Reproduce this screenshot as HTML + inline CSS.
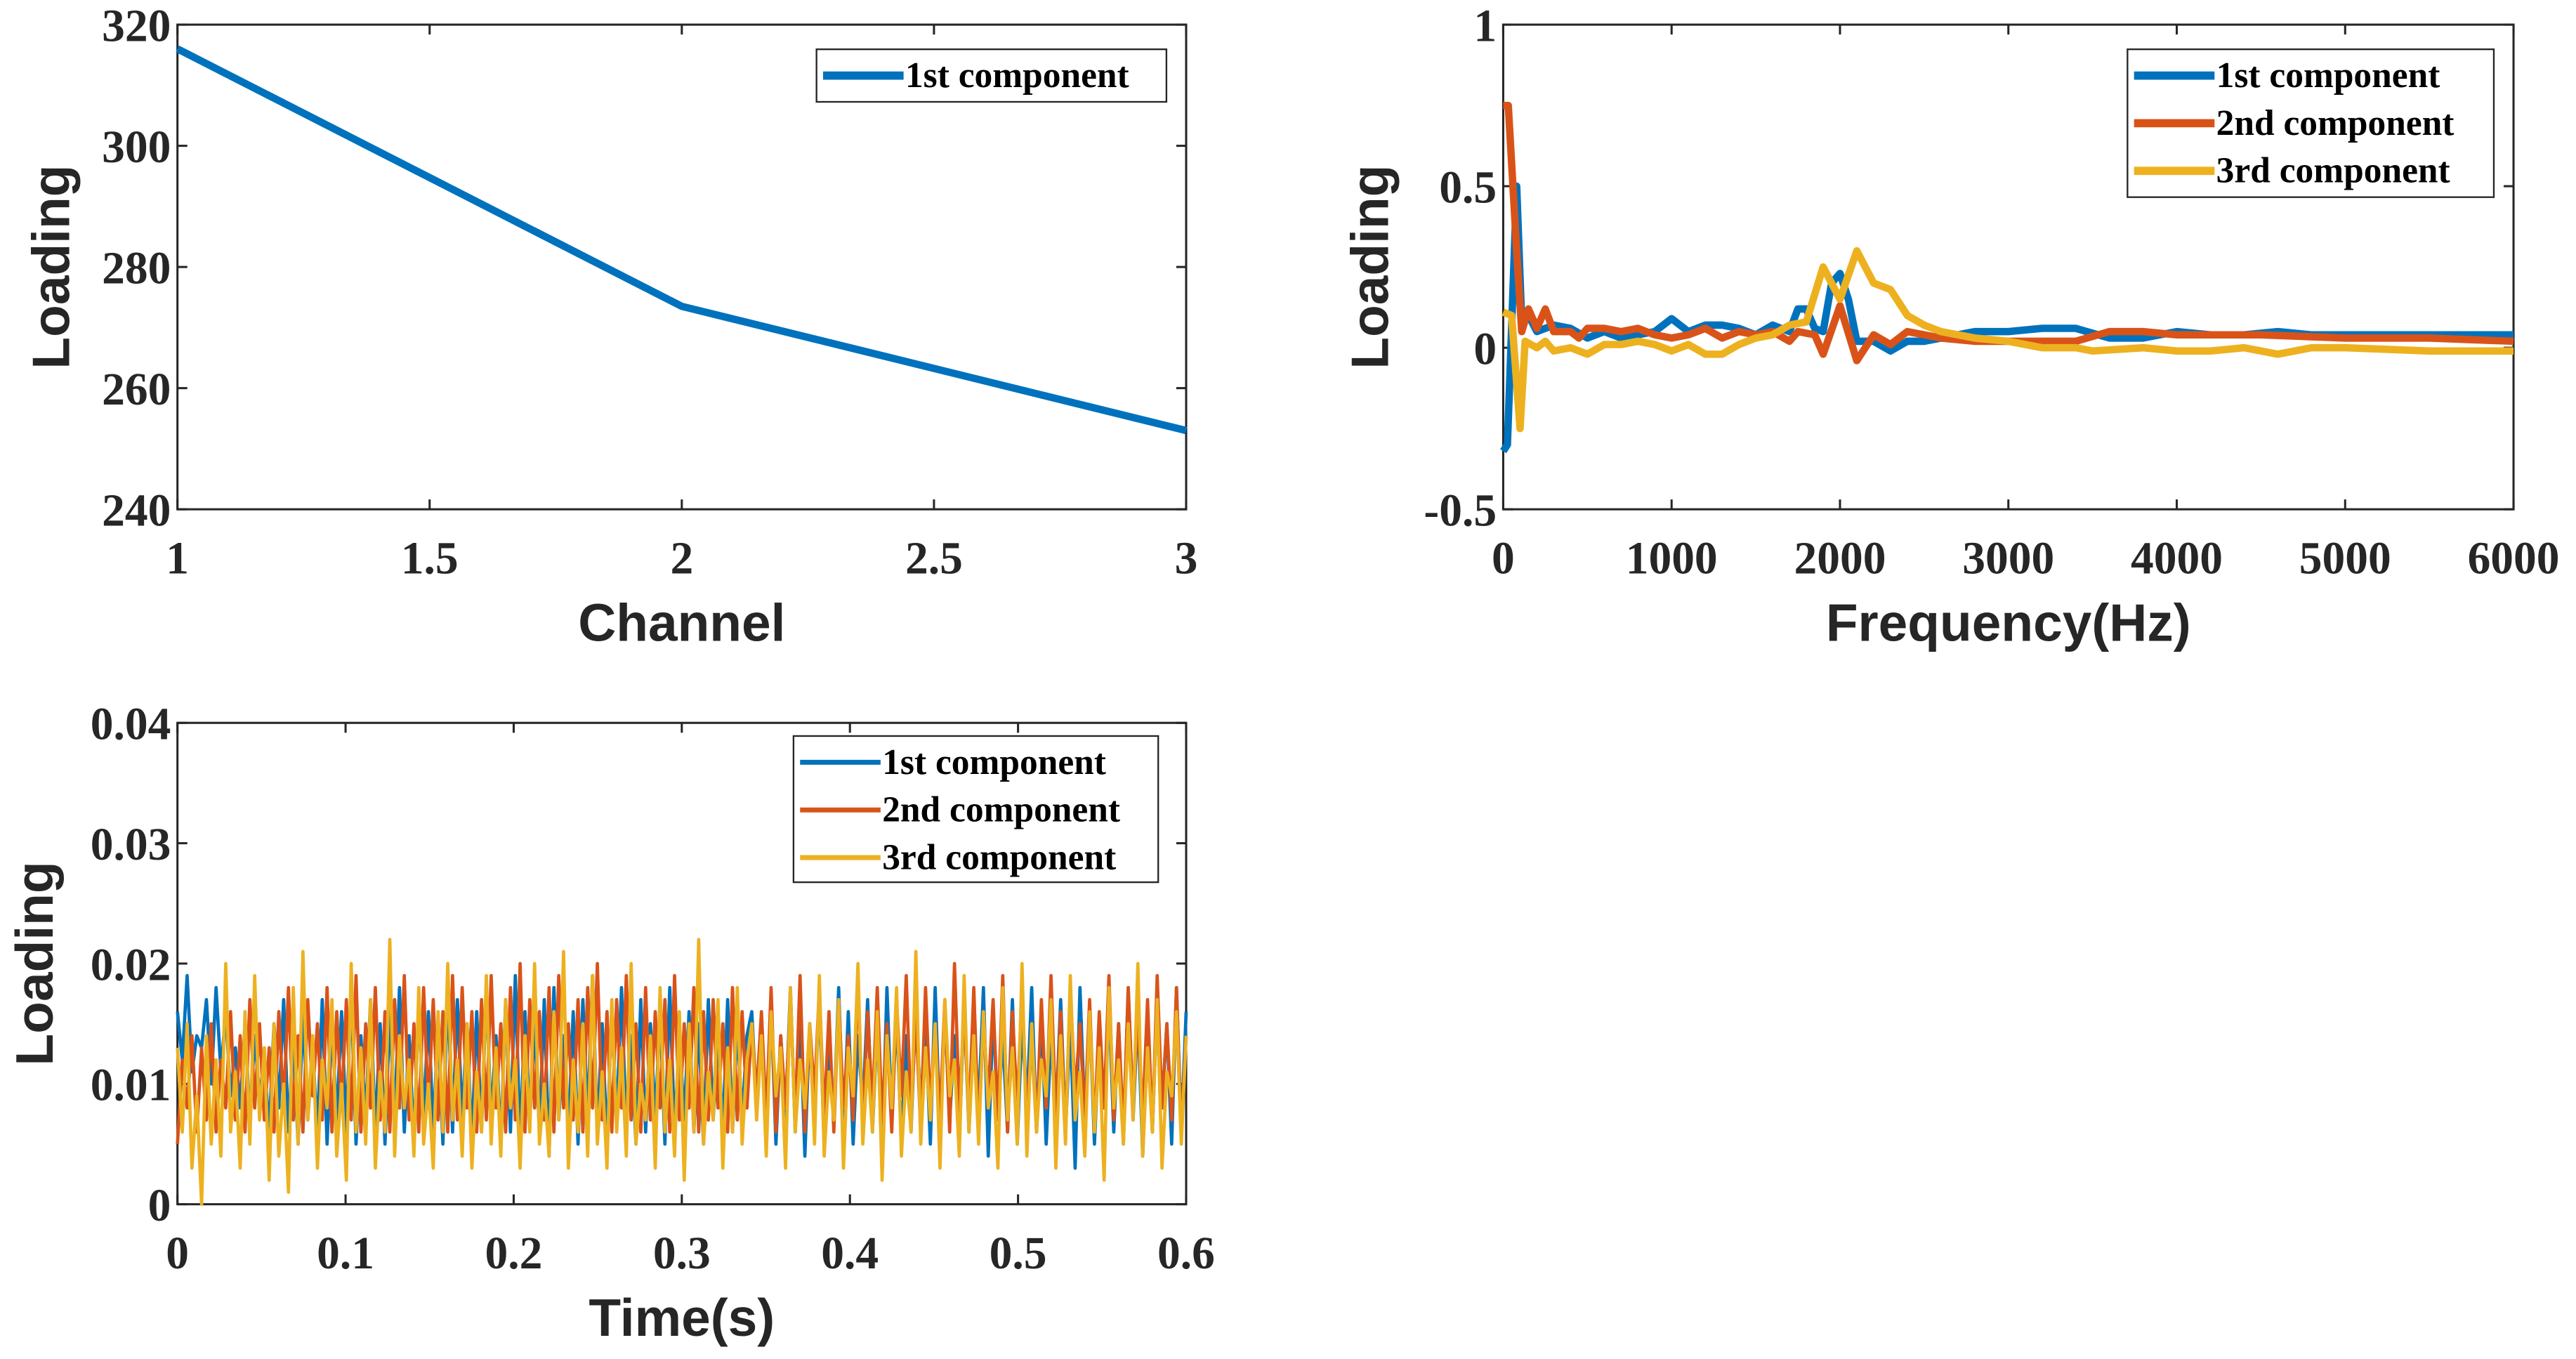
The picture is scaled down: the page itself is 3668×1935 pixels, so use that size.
<!DOCTYPE html>
<html><head><meta charset="utf-8"><style>
html,body{margin:0;padding:0;background:#fff;}
svg{display:block;}
.tk{font-family:"Liberation Serif",serif;font-weight:bold;font-size:28px;fill:#262626;}
.ti{font-family:"Liberation Sans",sans-serif;font-weight:bold;font-size:32px;fill:#262626;}
.lg{font-family:"Liberation Serif",serif;font-weight:bold;font-size:22px;fill:#000;}
</style></head><body>
<svg id="root" width="3668" height="1935" viewBox="0 0 1568 827.2" xmlns="http://www.w3.org/2000/svg"></svg>
<script>
// ---- chart 1 data ----
const ch1Channels=[1,2,3];
const ch1Loading=[316,273.5,253];
const ch1XTicks=[1,1.5,2,2.5,3];
const ch1YTicks=[240,260,280,300,320];
// ---- chart 2 data ----
const f1Hz=[0,25,80,110,150,200,300,400,500,600,700,800,900,1000,1100,1200,1300,1400,1500,1600,1700,1750,1800,1850,1900,1950,2000,2050,2100,2200,2300,2400,2500,2600,2800,3000,3200,3400,3600,3800,4000,4200,4400,4600,4800,5000,5500,6000];
const f1Val=[-0.32,-0.3,0.5,0.08,0.1,0.05,0.07,0.06,0.03,0.05,0.03,0.04,0.05,0.09,0.05,0.07,0.07,0.06,0.04,0.07,0.05,0.12,0.12,0.06,0.05,0.2,0.23,0.15,0.02,0.02,-0.01,0.02,0.02,0.03,0.05,0.05,0.06,0.06,0.03,0.03,0.05,0.04,0.04,0.05,0.04,0.04,0.04,0.04];
const f2Hz=[0,30,80,110,150,200,250,300,400,450,500,600,700,800,900,1000,1100,1200,1300,1400,1500,1600,1700,1750,1850,1900,2000,2100,2200,2300,2400,2600,2800,3000,3400,3600,3800,4000,4500,5000,5500,6000];
const f2Val=[0.75,0.75,0.3,0.05,0.12,0.06,0.12,0.05,0.05,0.03,0.06,0.06,0.05,0.06,0.04,0.03,0.04,0.06,0.03,0.05,0.04,0.05,0.02,0.05,0.04,-0.02,0.13,-0.04,0.04,0.01,0.05,0.03,0.02,0.02,0.02,0.05,0.05,0.04,0.04,0.03,0.03,0.02];
const f3Hz=[0,50,100,130,200,250,300,400,500,600,700,800,900,1000,1100,1200,1300,1400,1500,1600,1700,1800,1900,2000,2100,2200,2300,2400,2500,2600,2800,3000,3200,3400,3500,3800,4000,4200,4400,4600,4800,5000,5500,6000];
const f3Val=[0.11,0.1,-0.25,0.02,0,0.02,-0.01,0,-0.02,0.01,0.01,0.02,0.01,-0.01,0.01,-0.02,-0.02,0.01,0.03,0.04,0.07,0.08,0.25,0.15,0.3,0.2,0.18,0.1,0.07,0.05,0.03,0.02,0,0,-0.01,0,-0.01,-0.01,0,-0.02,0,0,-0.01,-0.01];
const ch2XTicks=[0,1000,2000,3000,4000,5000,6000];
const ch2YTicks=[-0.5,0,0.5,1];
// ---- chart 3 data (values x 1e-3) ----
const t3Yellow=[13,6,15,3,9,0,14,5,12,4,20,6,11,3,16,5,19,7,13,2,15,4,10,1,18,5,21,7,14,3,12,8,17,4,10,2,20,6,13,5,17,3,11,6,22,4,14,8,12,4,18,5,10,3,16,6,20,7,12,4,15,3,11,6,19,5,13,4,17,8,12,3,14,6,20,5,10,4,16,7,21,3,12,6,15,4,19,5,11,3,17,6,13,4,20,5,10,7,14,3,18,6,12,4,16,2,15,6,22,5,11,7,17,3,13,6,18,5,12,15,
 7,14,4,16,9,13,3,18,6,12,8,15,5,19,4,11,7,17,3,13,9,20,5,12,6,16,2,14,8,18,4,11,6,21,5,13,7,15,3,17,9,12,4,19,6,14,5,16,8,11,3,18,7,13,5,20,4,15,6,12,9,17,3,14,5,19,7,11,4,16,6,13,2,18,8,12,5,15,7,20,4,13,6,17,3,11,9,16,5,14];
const t3Red=[5,12,8,14,6,13,7,15,6,12,8,16,7,14,6,17,8,15,7,13,6,16,8,18,7,14,6,17,9,15,7,18,6,16,8,17,7,19,6,15,8,18,7,16,6,17,8,19,7,15,6,18,8,17,7,16,6,19,7,18,8,16,6,17,7,19,8,15,6,18,7,20,6,17,8,16,7,18,6,19,8,15,7,17,6,18,8,20,7,16,6,17,8,19,7,15,6,18,7,16,8,17,6,19,7,15,8,18,6,16,7,17,8,15,6,18,7,16,8,15,
 9,16,7,18,6,14,8,17,7,19,6,15,9,18,7,16,6,17,8,14,7,19,6,16,8,18,7,15,6,17,9,19,7,16,6,18,8,15,7,17,6,20,8,16,7,18,6,15,9,17,7,19,6,16,8,18,7,14,6,17,8,19,7,16,6,18,9,15,7,17,6,16,8,19,7,15,6,18,8,16,7,17,6,19,8,15,7,18,6,14];
const t3Blue=[16,12,19,11,14,13,17,10,18,11,16,9,13,8,15,7,14,9,12,6,15,8,17,6,14,5,16,7,13,6,17,5,15,7,16,6,18,5,14,7,17,6,15,5,16,7,18,6,14,5,17,7,16,6,15,5,18,6,17,7,15,5,16,6,18,7,14,5,17,6,19,5,16,7,15,6,17,4,18,7,14,6,16,5,17,7,19,6,15,5,16,7,18,6,14,5,17,6,15,7,16,5,18,6,14,7,16,6,15,5,17,7,14,6,17,6,15,7,14,16,
 8,15,6,17,5,14,7,18,6,16,4,15,8,17,5,13,7,18,6,16,5,14,8,17,6,15,4,18,7,16,5,14,6,17,8,15,5,18,6,16,7,14,5,17,6,15,8,18,4,16,7,14,6,17,5,15,8,18,6,16,5,14,7,17,6,15,3,18,7,16,5,14,8,17,6,15,5,18,7,16,4,14,6,17,8,15,5,18,6,16];
const ch3XTicks=[0,0.1,0.2,0.3,0.4,0.5,0.6];
const ch3YTicks=[0,0.01,0.02,0.03,0.04];
const BLUE='#0072BD',RED='#D95319',YEL='#EDB120';

const NS='http://www.w3.org/2000/svg';
const root=document.getElementById('root');
function mk(tag,attrs,parent){const e=document.createElementNS(NS,tag);for(const k in attrs)e.setAttribute(k,attrs[k]);(parent||root).appendChild(e);return e;}
function scale(d0,d1,r0,r1){return v=>r0+(v-d0)/(d1-d0)*(r1-r0);}

function axes(g,L,T,R,B,xs,ys,xt,yt,xfmt,yfmt,xtitle,ytitle,yTitleX){
  const box=mk('rect',{x:L,y:T,width:R-L,height:B-T,fill:'none',stroke:'#262626','stroke-width':1.3},g);
  
  
  xt.forEach(v=>{const x=xs(v);
    const t1=mk('line',{x1:x,y1:B,x2:x,y2:B-6,stroke:'#262626','stroke-width':1.3},g);
    
    
    mk('line',{x1:x,y1:T,x2:x,y2:T+6,stroke:'#262626','stroke-width':1.3},g);
    const tx=mk('text',{x:x,y:B+39,'text-anchor':'middle',class:'tk'},g);tx.textContent=xfmt(v);
    
    
  });
  yt.forEach(v=>{const y=ys(v);
    const t1=mk('line',{x1:L,y1:y,x2:L+6,y2:y,stroke:'#262626','stroke-width':1.3},g);
    
    
    mk('line',{x1:R,y1:y,x2:R-6,y2:y,stroke:'#262626','stroke-width':1.3},g);
    const tx=mk('text',{x:L-4,y:y+10,'text-anchor':'end',class:'tk'},g);tx.textContent=yfmt(v);
    
    
  });
  const xl=mk('text',{x:(L+R)/2,y:B+80,'text-anchor':'middle',class:'ti'},g);xl.textContent=xtitle;
  
  
  const yl=mk('text',{x:yTitleX,y:(T+B)/2,'text-anchor':'middle',class:'ti',transform:`rotate(-90 ${yTitleX} ${(T+B)/2})`},g);yl.textContent=ytitle;
  
  
}
function series(g,xsArr,vals,xs,ys,color,w,name){
  const pts=vals.map((v,i)=>xs(xsArr[i]).toFixed(2)+','+ys(v).toFixed(2)).join(' ');
  const p=mk('polyline',{points:pts,fill:'none',stroke:color,'stroke-width':w,'stroke-linejoin':'round'},g);
  
  
}
function legend(g,x,y,w,h,items,lw){
  const lg=mk('g',{},g);
  
  
  mk('rect',{x:x,y:y,width:w,height:h,fill:'#fff',stroke:'#262626','stroke-width':1},lg);
  items.forEach((it,i)=>{const cy=y+16+i*29;
    const e=mk('g',{},lg);
    
    
    mk('line',{x1:x+4,y1:cy,x2:x+53,y2:cy,stroke:it[1],'stroke-width':lw},e);
    const t=mk('text',{x:x+54,y:cy+7,class:'lg'},e);t.textContent=it[0];
  });
}

// Chart 1
{const g=mk('g',{});
 const L=108,R=722,T=15,B=310;const xs=scale(1,3,L,R),ys=scale(240,320,B,T);
 axes(g,L,T,R,B,xs,ys,ch1XTicks,ch1YTicks,v=>String(v),v=>String(v),'Channel','Loading',42);
 series(g,ch1Channels,ch1Loading,xs,ys,BLUE,4.5,'series-1st-component');
 legend(g,497,30,213,32,[['1st component',BLUE]],5);}
// Chart 2
{const g=mk('g',{});
 const L=915,R=1530,T=15,B=310;const xs=scale(0,6000,L,R),ys=scale(-0.5,1,B,T);
 axes(g,L,T,R,B,xs,ys,ch2XTicks,ch2YTicks,v=>String(v),v=>String(v),'Frequency(Hz)','Loading',845);
 series(g,f1Hz,f1Val,xs,ys,BLUE,4.5,'series-1st-component');
 series(g,f2Hz,f2Val,xs,ys,RED,4.5,'series-2nd-component');
 series(g,f3Hz,f3Val,xs,ys,YEL,4.5,'series-3rd-component');
 legend(g,1295,30,223,90,[['1st component',BLUE],['2nd component',RED],['3rd component',YEL]],5);}
// Chart 3
{const g=mk('g',{});
 const L=108,R=722,T=440,B=733;const xs=scale(0,0.6,L,R),ys=scale(0,0.04,B,T);
 axes(g,L,T,R,B,xs,ys,ch3XTicks,ch3YTicks,v=>String(v),v=>String(v),'Time(s)','Loading',32);
 const tB=t3Blue.map((_,i)=>i*0.6/(t3Blue.length-1)),tR=t3Red.map((_,i)=>i*0.6/(t3Red.length-1)),tY=t3Yellow.map((_,i)=>i*0.6/(t3Yellow.length-1));
 series(g,tB,t3Blue.map(v=>v/1000),xs,ys,BLUE,2,'series-1st-component');
 series(g,tR,t3Red.map(v=>v/1000),xs,ys,RED,2,'series-2nd-component');
 series(g,tY,t3Yellow.map(v=>v/1000),xs,ys,YEL,2,'series-3rd-component');
 legend(g,483,448,222,89,[['1st component',BLUE],['2nd component',RED],['3rd component',YEL]],3);}
</script>
</body></html>
